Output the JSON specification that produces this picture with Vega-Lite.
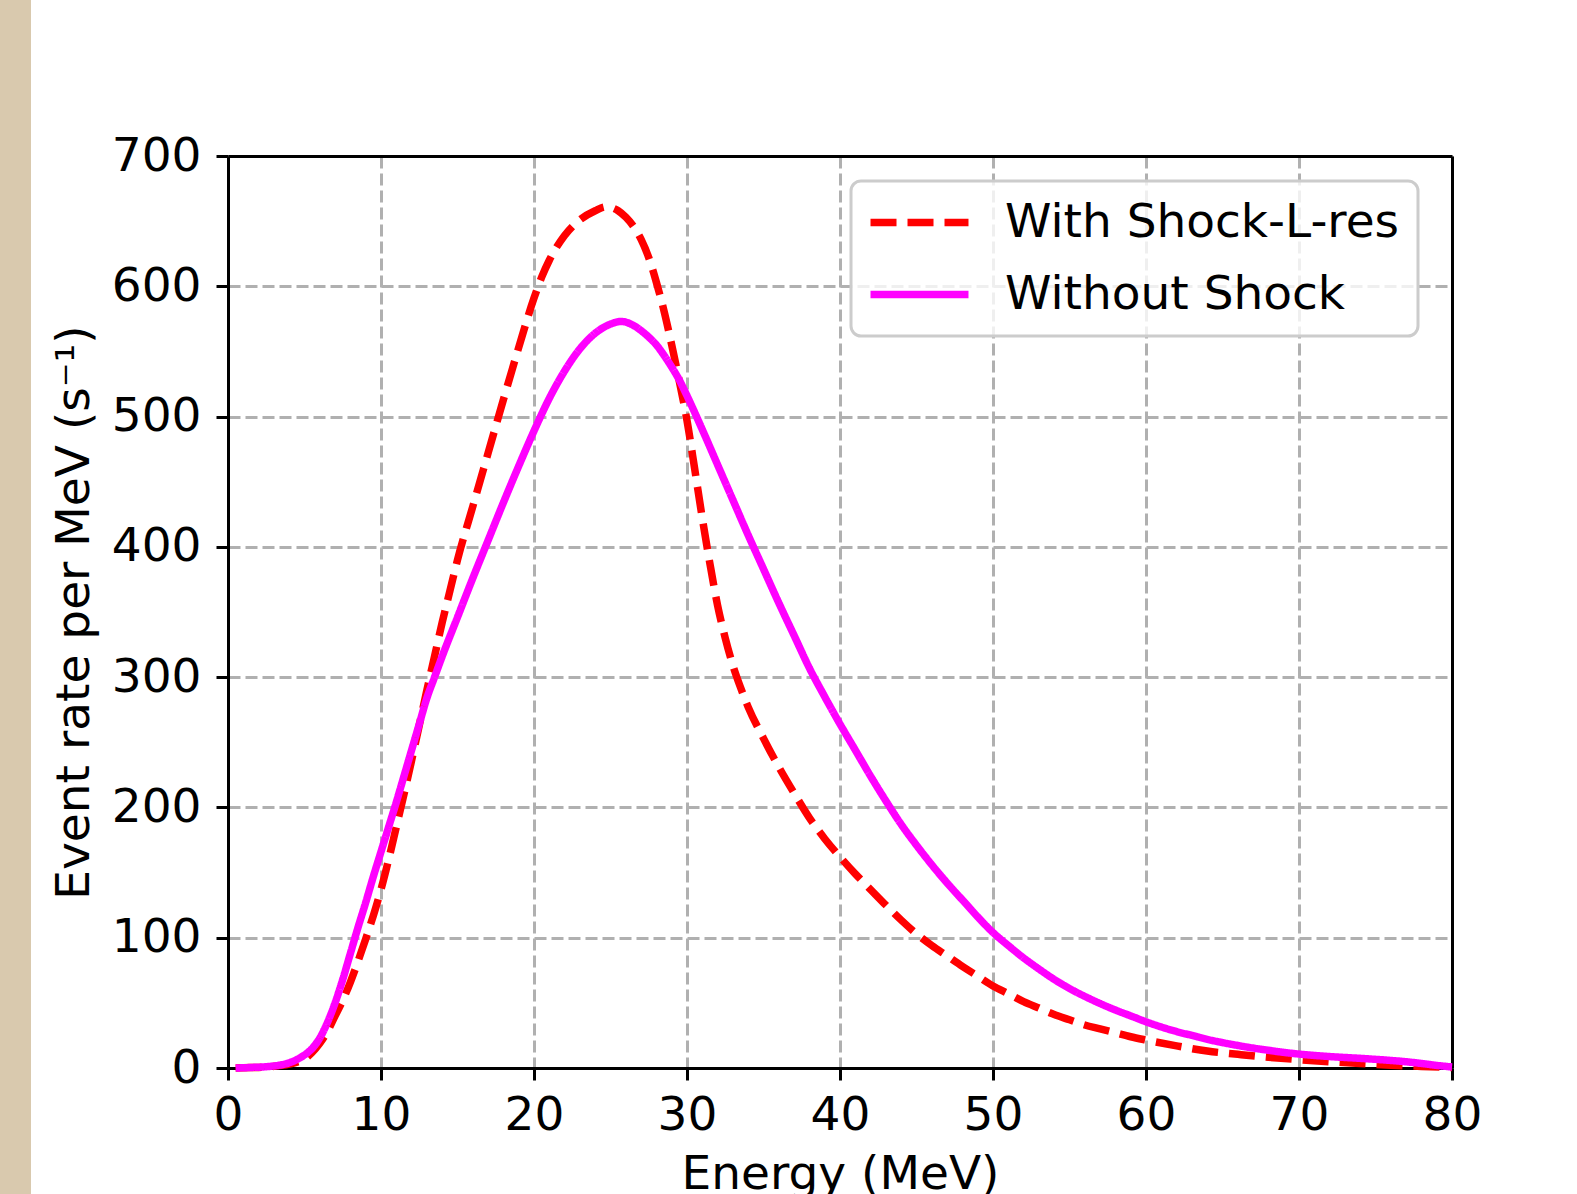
{
  "$schema": "https://vega.github.io/schema/vega-lite/v6.json",
  "width": 1224,
  "height": 912,
  "autosize": "none",
  "padding": {"left": 228, "top": 156, "right": 125, "bottom": 126},
  "background": "#d9c9ae",
  "config": {
    "view": {"fill": "white", "stroke": "white", "strokeWidth": 394},
    "font": "DejaVu Sans",
    "axis": {
      "domainColor": "black", "domainWidth": 3,
      "tickColor": "black", "tickWidth": 3, "tickSize": 12,
      "labelFont": "DejaVu Sans", "labelFontSize": 47, "labelColor": "black",
      "titleFont": "DejaVu Sans", "titleFontSize": 47, "titleFontWeight": "normal", "titleColor": "black",
      "gridColor": "#b0b0b0", "gridDash": [12, 5], "gridWidth": 3, "gridOpacity": 1,
      "labelFlush": false, "labelOverlap": false
    },
    "legend": {
      "orient": "none", "legendX": 623, "legendY": 25,
      "padding": 18, "fillColor": "rgba(255,255,255,0.8)", "strokeColor": "#cccccc", "strokeWidth": 3, "cornerRadius": 10,
      "symbolType": "M-4,0H4", "symbolSize": 600, "symbolStrokeWidth": 7.5, "symbolOffset": 27,
      "labelFont": "DejaVu Sans", "labelFontSize": 47, "labelColor": "black", "labelOffset": 62, "labelLimit": 0,
      "rowPadding": 24
    }
  },
  "data": {"values": [
    {"E": 0.5, "rate": 0, "series": "With Shock-L-res"},
    {"E": 1.5, "rate": 0.3, "series": "With Shock-L-res"},
    {"E": 2.5, "rate": 0.8, "series": "With Shock-L-res"},
    {"E": 3.5, "rate": 2, "series": "With Shock-L-res"},
    {"E": 4, "rate": 3, "series": "With Shock-L-res"},
    {"E": 4.5, "rate": 4.5, "series": "With Shock-L-res"},
    {"E": 5, "rate": 7, "series": "With Shock-L-res"},
    {"E": 5.5, "rate": 12, "series": "With Shock-L-res"},
    {"E": 6, "rate": 19, "series": "With Shock-L-res"},
    {"E": 6.5, "rate": 28, "series": "With Shock-L-res"},
    {"E": 7, "rate": 40, "series": "With Shock-L-res"},
    {"E": 7.5, "rate": 52, "series": "With Shock-L-res"},
    {"E": 8, "rate": 66, "series": "With Shock-L-res"},
    {"E": 8.5, "rate": 82, "series": "With Shock-L-res"},
    {"E": 9, "rate": 99, "series": "With Shock-L-res"},
    {"E": 9.5, "rate": 117, "series": "With Shock-L-res"},
    {"E": 10, "rate": 137, "series": "With Shock-L-res"},
    {"E": 10.5, "rate": 160, "series": "With Shock-L-res"},
    {"E": 11, "rate": 185, "series": "With Shock-L-res"},
    {"E": 11.5, "rate": 210, "series": "With Shock-L-res"},
    {"E": 12, "rate": 236, "series": "With Shock-L-res"},
    {"E": 12.5, "rate": 263, "series": "With Shock-L-res"},
    {"E": 13, "rate": 290, "series": "With Shock-L-res"},
    {"E": 13.5, "rate": 316, "series": "With Shock-L-res"},
    {"E": 14, "rate": 342, "series": "With Shock-L-res"},
    {"E": 14.5, "rate": 366, "series": "With Shock-L-res"},
    {"E": 15, "rate": 390, "series": "With Shock-L-res"},
    {"E": 16, "rate": 431, "series": "With Shock-L-res"},
    {"E": 17, "rate": 472, "series": "With Shock-L-res"},
    {"E": 18, "rate": 513, "series": "With Shock-L-res"},
    {"E": 19, "rate": 553, "series": "With Shock-L-res"},
    {"E": 20, "rate": 591, "series": "With Shock-L-res"},
    {"E": 20.5, "rate": 607, "series": "With Shock-L-res"},
    {"E": 21, "rate": 620, "series": "With Shock-L-res"},
    {"E": 22, "rate": 639, "series": "With Shock-L-res"},
    {"E": 23, "rate": 651, "series": "With Shock-L-res"},
    {"E": 24, "rate": 658, "series": "With Shock-L-res"},
    {"E": 24.7, "rate": 661, "series": "With Shock-L-res"},
    {"E": 25.5, "rate": 658, "series": "With Shock-L-res"},
    {"E": 26, "rate": 653, "series": "With Shock-L-res"},
    {"E": 26.5, "rate": 646, "series": "With Shock-L-res"},
    {"E": 27, "rate": 636, "series": "With Shock-L-res"},
    {"E": 27.5, "rate": 622, "series": "With Shock-L-res"},
    {"E": 28, "rate": 603, "series": "With Shock-L-res"},
    {"E": 28.5, "rate": 581, "series": "With Shock-L-res"},
    {"E": 29, "rate": 555, "series": "With Shock-L-res"},
    {"E": 29.5, "rate": 527, "series": "With Shock-L-res"},
    {"E": 30, "rate": 497, "series": "With Shock-L-res"},
    {"E": 30.5, "rate": 460, "series": "With Shock-L-res"},
    {"E": 31, "rate": 422, "series": "With Shock-L-res"},
    {"E": 31.5, "rate": 387, "series": "With Shock-L-res"},
    {"E": 32, "rate": 355, "series": "With Shock-L-res"},
    {"E": 32.5, "rate": 330, "series": "With Shock-L-res"},
    {"E": 33, "rate": 309, "series": "With Shock-L-res"},
    {"E": 33.5, "rate": 292, "series": "With Shock-L-res"},
    {"E": 34, "rate": 277, "series": "With Shock-L-res"},
    {"E": 35, "rate": 253, "series": "With Shock-L-res"},
    {"E": 36, "rate": 231, "series": "With Shock-L-res"},
    {"E": 37, "rate": 211, "series": "With Shock-L-res"},
    {"E": 38, "rate": 192, "series": "With Shock-L-res"},
    {"E": 39, "rate": 176, "series": "With Shock-L-res"},
    {"E": 40, "rate": 162, "series": "With Shock-L-res"},
    {"E": 41, "rate": 149, "series": "With Shock-L-res"},
    {"E": 42, "rate": 137, "series": "With Shock-L-res"},
    {"E": 43, "rate": 125, "series": "With Shock-L-res"},
    {"E": 44, "rate": 113.5, "series": "With Shock-L-res"},
    {"E": 45, "rate": 103, "series": "With Shock-L-res"},
    {"E": 46, "rate": 94, "series": "With Shock-L-res"},
    {"E": 47, "rate": 86, "series": "With Shock-L-res"},
    {"E": 48, "rate": 78, "series": "With Shock-L-res"},
    {"E": 49, "rate": 70.5, "series": "With Shock-L-res"},
    {"E": 50, "rate": 63, "series": "With Shock-L-res"},
    {"E": 51, "rate": 57, "series": "With Shock-L-res"},
    {"E": 52, "rate": 51, "series": "With Shock-L-res"},
    {"E": 53, "rate": 46, "series": "With Shock-L-res"},
    {"E": 54, "rate": 41, "series": "With Shock-L-res"},
    {"E": 55, "rate": 37, "series": "With Shock-L-res"},
    {"E": 56, "rate": 33, "series": "With Shock-L-res"},
    {"E": 57, "rate": 30, "series": "With Shock-L-res"},
    {"E": 58, "rate": 27, "series": "With Shock-L-res"},
    {"E": 59, "rate": 24, "series": "With Shock-L-res"},
    {"E": 60, "rate": 21.5, "series": "With Shock-L-res"},
    {"E": 62, "rate": 17, "series": "With Shock-L-res"},
    {"E": 64, "rate": 13, "series": "With Shock-L-res"},
    {"E": 66, "rate": 10.5, "series": "With Shock-L-res"},
    {"E": 68, "rate": 8.2, "series": "With Shock-L-res"},
    {"E": 70, "rate": 6.4, "series": "With Shock-L-res"},
    {"E": 72, "rate": 4.8, "series": "With Shock-L-res"},
    {"E": 74, "rate": 3.4, "series": "With Shock-L-res"},
    {"E": 76, "rate": 2.2, "series": "With Shock-L-res"},
    {"E": 78, "rate": 1.2, "series": "With Shock-L-res"},
    {"E": 80, "rate": 0.4, "series": "With Shock-L-res"},
    {"E": 0.5, "rate": 0, "series": "Without Shock"},
    {"E": 1.5, "rate": 0.4, "series": "Without Shock"},
    {"E": 2.5, "rate": 1, "series": "Without Shock"},
    {"E": 3.5, "rate": 2.5, "series": "Without Shock"},
    {"E": 4, "rate": 4, "series": "Without Shock"},
    {"E": 4.5, "rate": 6.5, "series": "Without Shock"},
    {"E": 5, "rate": 10, "series": "Without Shock"},
    {"E": 5.5, "rate": 15, "series": "Without Shock"},
    {"E": 6, "rate": 23, "series": "Without Shock"},
    {"E": 6.5, "rate": 35, "series": "Without Shock"},
    {"E": 7, "rate": 50, "series": "Without Shock"},
    {"E": 7.5, "rate": 68, "series": "Without Shock"},
    {"E": 8, "rate": 88, "series": "Without Shock"},
    {"E": 8.5, "rate": 108, "series": "Without Shock"},
    {"E": 9, "rate": 127, "series": "Without Shock"},
    {"E": 9.5, "rate": 147, "series": "Without Shock"},
    {"E": 10, "rate": 166, "series": "Without Shock"},
    {"E": 10.5, "rate": 185, "series": "Without Shock"},
    {"E": 11, "rate": 204, "series": "Without Shock"},
    {"E": 11.5, "rate": 224, "series": "Without Shock"},
    {"E": 12, "rate": 244, "series": "Without Shock"},
    {"E": 12.5, "rate": 264, "series": "Without Shock"},
    {"E": 13, "rate": 284, "series": "Without Shock"},
    {"E": 13.5, "rate": 300, "series": "Without Shock"},
    {"E": 14, "rate": 316, "series": "Without Shock"},
    {"E": 15, "rate": 346, "series": "Without Shock"},
    {"E": 16, "rate": 376, "series": "Without Shock"},
    {"E": 17, "rate": 405, "series": "Without Shock"},
    {"E": 18, "rate": 434, "series": "Without Shock"},
    {"E": 19, "rate": 462, "series": "Without Shock"},
    {"E": 20, "rate": 489, "series": "Without Shock"},
    {"E": 21, "rate": 514, "series": "Without Shock"},
    {"E": 22, "rate": 535, "series": "Without Shock"},
    {"E": 23, "rate": 552, "series": "Without Shock"},
    {"E": 24, "rate": 564, "series": "Without Shock"},
    {"E": 25, "rate": 571, "series": "Without Shock"},
    {"E": 25.7, "rate": 573, "series": "Without Shock"},
    {"E": 26.5, "rate": 570, "series": "Without Shock"},
    {"E": 27, "rate": 566, "series": "Without Shock"},
    {"E": 27.5, "rate": 561, "series": "Without Shock"},
    {"E": 28, "rate": 555, "series": "Without Shock"},
    {"E": 28.5, "rate": 547, "series": "Without Shock"},
    {"E": 29, "rate": 538, "series": "Without Shock"},
    {"E": 29.5, "rate": 528, "series": "Without Shock"},
    {"E": 30, "rate": 516, "series": "Without Shock"},
    {"E": 31, "rate": 490, "series": "Without Shock"},
    {"E": 32, "rate": 463, "series": "Without Shock"},
    {"E": 33, "rate": 436, "series": "Without Shock"},
    {"E": 34, "rate": 409, "series": "Without Shock"},
    {"E": 35, "rate": 383, "series": "Without Shock"},
    {"E": 36, "rate": 357, "series": "Without Shock"},
    {"E": 37, "rate": 332, "series": "Without Shock"},
    {"E": 38, "rate": 307, "series": "Without Shock"},
    {"E": 39, "rate": 285, "series": "Without Shock"},
    {"E": 40, "rate": 264, "series": "Without Shock"},
    {"E": 41, "rate": 244, "series": "Without Shock"},
    {"E": 42, "rate": 224, "series": "Without Shock"},
    {"E": 43, "rate": 205, "series": "Without Shock"},
    {"E": 44, "rate": 187, "series": "Without Shock"},
    {"E": 45, "rate": 171, "series": "Without Shock"},
    {"E": 46, "rate": 156, "series": "Without Shock"},
    {"E": 47, "rate": 142, "series": "Without Shock"},
    {"E": 48, "rate": 129, "series": "Without Shock"},
    {"E": 49, "rate": 116, "series": "Without Shock"},
    {"E": 50, "rate": 104, "series": "Without Shock"},
    {"E": 51, "rate": 94, "series": "Without Shock"},
    {"E": 52, "rate": 84.5, "series": "Without Shock"},
    {"E": 53, "rate": 76, "series": "Without Shock"},
    {"E": 54, "rate": 68, "series": "Without Shock"},
    {"E": 55, "rate": 61, "series": "Without Shock"},
    {"E": 56, "rate": 55, "series": "Without Shock"},
    {"E": 57, "rate": 49.5, "series": "Without Shock"},
    {"E": 58, "rate": 44.5, "series": "Without Shock"},
    {"E": 59, "rate": 40, "series": "Without Shock"},
    {"E": 60, "rate": 35.5, "series": "Without Shock"},
    {"E": 61, "rate": 31.5, "series": "Without Shock"},
    {"E": 62, "rate": 28, "series": "Without Shock"},
    {"E": 63, "rate": 25, "series": "Without Shock"},
    {"E": 64, "rate": 22, "series": "Without Shock"},
    {"E": 65, "rate": 19.5, "series": "Without Shock"},
    {"E": 66, "rate": 17.3, "series": "Without Shock"},
    {"E": 67, "rate": 15.3, "series": "Without Shock"},
    {"E": 68, "rate": 13.6, "series": "Without Shock"},
    {"E": 69, "rate": 12, "series": "Without Shock"},
    {"E": 70, "rate": 10.7, "series": "Without Shock"},
    {"E": 72, "rate": 8.8, "series": "Without Shock"},
    {"E": 74, "rate": 7.4, "series": "Without Shock"},
    {"E": 76, "rate": 5.8, "series": "Without Shock"},
    {"E": 77, "rate": 4.8, "series": "Without Shock"},
    {"E": 78, "rate": 3.5, "series": "Without Shock"},
    {"E": 79, "rate": 2, "series": "Without Shock"},
    {"E": 80, "rate": 0.8, "series": "Without Shock"}
  ]},
  "layer": [
    {
      "mark": {"type": "line", "strokeWidth": 7.5, "interpolate": "monotone"},
      "encoding": {
        "x": {"field": "E", "type": "quantitative",
              "scale": {"domain": [0, 80], "nice": false, "zero": false},
              "axis": {"values": [0, 10, 20, 30, 40, 50, 60, 70, 80], "title": "Energy (MeV)", "labelPadding": 12, "titlePadding": 13}},
        "y": {"field": "rate", "type": "quantitative",
              "scale": {"domain": [0, 700], "nice": false},
              "axis": {"values": [0, 100, 200, 300, 400, 500, 600, 700], "title": "Event rate per MeV (s⁻¹)", "labelPadding": 15, "titlePadding": 13}},
        "color": {"field": "series", "type": "nominal",
                  "scale": {"domain": ["With Shock-L-res", "Without Shock"], "range": ["#ff0000", "#ff00ff"]},
                  "legend": {"title": null}},
        "strokeDash": {"field": "series", "type": "nominal",
                       "scale": {"domain": ["With Shock-L-res", "Without Shock"], "range": [[26, 11], [1, 0]]},
                       "legend": {"title": null}}
      }
    },
    {
      "mark": {"type": "line", "opacity": 0},
      "encoding": {
        "x": {"field": "E", "type": "quantitative",
              "axis": {"orient": "top", "labels": false, "ticks": false, "grid": false, "title": null, "domain": true}},
        "y": {"field": "rate", "type": "quantitative",
              "axis": {"orient": "right", "labels": false, "ticks": false, "grid": false, "title": null, "domain": true}},
        "detail": {"field": "series"}
      }
    }
  ],
  "resolve": {"axis": {"x": "independent", "y": "independent"}}
}
